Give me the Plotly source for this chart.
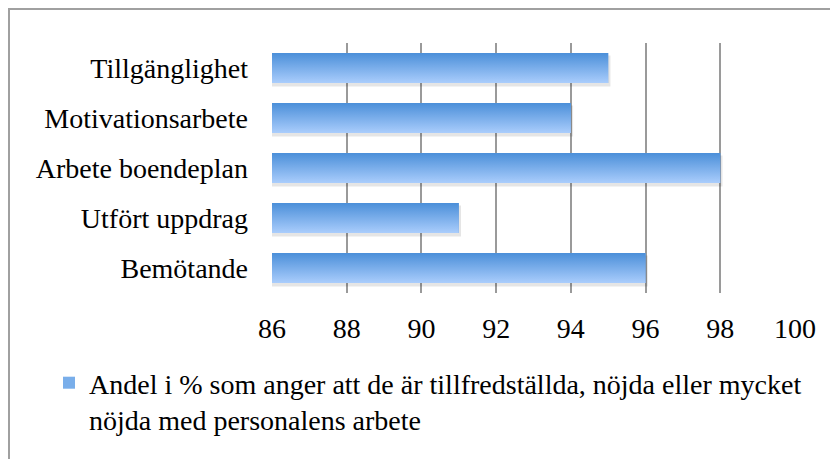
import plotly.graph_objects as go

categories = ["Bemötande", "Utfört uppdrag", "Arbete boendeplan", "Motivationsarbete", "Tillgänglighet"]
values = [96, 91, 98, 94, 95]
x_ticks = [86, 88, 90, 92, 94, 96, 98, 100]
series_name = "Andel i % som anger att de är tillfredställda, nöjda eller mycket<br>nöjda med personalens arbete"

BASE = 86
HALF = 0.3
FONT = "'Liberation Serif', 'Times New Roman', serif"
FS = 28

# figure drawn inside an 8px page margin
W, H = 830, 451
L, R, T, B = 264, 43, 35, 166
PW, PH = W - L - R, H - T - B

fig = go.Figure()

# soft drop shadows
for i, v in enumerate(values):
    fig.add_trace(go.Scatter(
        x=[BASE, v + 0.06, v + 0.06, BASE, BASE],
        y=[i - HALF - 0.07, i - HALF - 0.07, i + HALF - 0.05, i + HALF - 0.05, i - HALF - 0.07],
        mode="lines", line=dict(width=0), fill="toself", fillcolor="rgba(0,0,0,0.10)",
        showlegend=False, hoverinfo="skip",
    ))

# main bar trace (legend + solid base colour)
fig.add_trace(go.Bar(
    y=list(range(len(categories))), x=[v - BASE for v in values], base=BASE,
    orientation="h", width=2 * HALF,
    marker=dict(color="#79aeea", line=dict(width=0)),
    name=series_name, showlegend=True,
))

# gradient overlays, one per bar
for i, v in enumerate(values):
    fig.add_trace(go.Scatter(
        x=[BASE, v, v, BASE, BASE], y=[i - HALF, i - HALF, i + HALF, i + HALF, i - HALF],
        mode="lines", line=dict(width=0), fill="toself",
        fillgradient=dict(type="vertical", colorscale=[[0, "#aacdfc"], [1, "#4b8fd9"]]),
        showlegend=False, hoverinfo="skip",
    ))

fig.update_layout(
    width=W, height=H,
    margin=dict(l=L, r=R, t=T, b=B),
    paper_bgcolor="white", plot_bgcolor="white",
    font=dict(family=FONT, size=FS, color="black"),
    showlegend=True,
    legend=dict(x=(41 - L) / PW, y=(285 - 350 - (H - B - 285)) / PH, xanchor="left", yanchor="top",
                font=dict(family=FONT, size=FS), valign="top",
                itemwidth=30, tracegroupgap=0, bgcolor="rgba(0,0,0,0)"),
    xaxis=dict(range=[86, 100], tickvals=x_ticks, showgrid=True, gridcolor="#9a9a9a",
               gridwidth=2, zeroline=False, showline=False, ticks="",
               ticklabelstandoff=16, tickfont=dict(family=FONT, size=FS)),
    yaxis=dict(range=[-0.5, len(categories) - 0.5], tickvals=list(range(len(categories))),
               ticktext=categories, showgrid=False, zeroline=False, showline=False,
               ticks="", ticklabelstandoff=23, tickfont=dict(family=FONT, size=FS)),
    shapes=[dict(type="rect", xref="paper", yref="paper",
                 x0=(1 - L) / PW, x1=(W + 20 - L) / PW,
                 y0=-(B + 20) / PH, y1=(H - B - 1) / PH,
                 line=dict(color="#a0a0a0", width=2), fillcolor="rgba(0,0,0,0)", layer="below")],
)

fig.write_html("out.html")
